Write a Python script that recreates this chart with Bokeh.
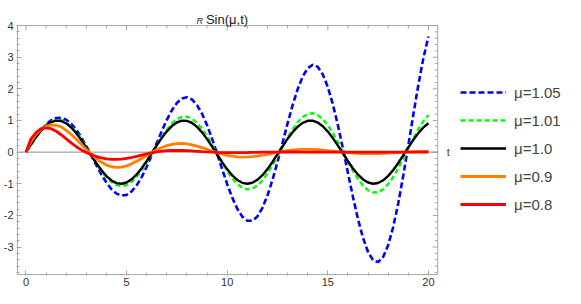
import math
from bokeh.plotting import figure
from bokeh.models import (LinearAxis, FixedTicker, Range1d, Legend, LegendItem,
                          Label, ColumnDataSource)
from bokeh.embed import file_html
from bokeh.resources import INLINE

# ---------------- data ----------------
t = [0.0, 0.25, 0.5, 0.75, 1.0, 1.25, 1.5, 1.75, 2.0, 2.25, 2.5, 2.75,
     3.0, 3.25, 3.5, 3.75, 4.0, 4.25, 4.5, 4.75, 5.0, 5.25, 5.5, 5.75,
     6.0, 6.25, 6.5, 6.75, 7.0, 7.25, 7.5, 7.75, 8.0, 8.25, 8.5, 8.75,
     9.0, 9.25, 9.5, 9.75, 10.0, 10.25, 10.5, 10.75, 11.0, 11.25, 11.5, 11.75,
     12.0, 12.25, 12.5, 12.75, 13.0, 13.25, 13.5, 13.75, 14.0, 14.25, 14.5, 14.75,
     15.0, 15.25, 15.5, 15.75, 16.0, 16.25, 16.5, 16.75, 17.0, 17.25, 17.5, 17.75,
     18.0, 18.25, 18.5, 18.75, 19.0, 19.25, 19.5, 19.75, 20.0]

mu_105 = [0, 0.243, 0.480, 0.696,
          0.875, 1.007, 1.079, 1.087,
          1.025, 0.898, 0.708, 0.468,
          0.188, -0.113, -0.419, -0.710,
          -0.967, -1.173, -1.312, -1.373,
          -1.351, -1.243, -1.053, -0.788,
          -0.463, -0.098, 0.286, 0.668,
          1.021, 1.323, 1.554, 1.696,
          1.733, 1.665, 1.489, 1.213,
          0.849, 0.420, -0.054, -0.543,
          -1.013, -1.438, -1.789, -2.039,
          -2.170, -2.170, -2.033, -1.763,
          -1.373, -0.878, -0.310, 0.296,
          0.907, 1.484, 1.988, 2.389,
          2.652, 2.764, 2.695, 2.456,
          2.057, 1.511, 0.851, 0.114,
          -0.660, -1.422, -2.123, -2.714,
          -3.158, -3.420, -3.476, -3.312,
          -2.935, -2.358, -1.616, -0.735,
          0.218, 1.195, 2.135, 2.977,
          3.657]

mu_101 = [0, 0.248, 0.482, 0.688,
          0.852, 0.967, 1.021, 1.013,
          0.941, 0.810, 0.628, 0.407,
          0.157, -0.103, -0.360, -0.597,
          -0.797, -0.949, -1.045, -1.076,
          -1.040, -0.940, -0.781, -0.571,
          -0.324, -0.057, 0.216, 0.479,
          0.713, 0.905, 1.042, 1.116,
          1.120, 1.055, 0.924, 0.736,
          0.500, 0.231, -0.054, -0.338,
          -0.602, -0.831, -1.010, -1.127,
          -1.176, -1.153, -1.056, -0.895,
          -0.676, -0.414, -0.124, 0.175,
          0.465, 0.727, 0.947, 1.110,
          1.206, 1.229, 1.170, 1.042,
          0.848, 0.601, 0.314, 0.006,
          -0.304, -0.597, -0.856, -1.062,
          -1.205, -1.275, -1.264, -1.175,
          -1.013, -0.787, -0.512, -0.202,
          0.122, 0.440, 0.734, 0.983,
          1.173]

mu_100 = [0, 0.247, 0.479, 0.682,
          0.841, 0.949, 0.997, 0.984,
          0.909, 0.778, 0.598, 0.382,
          0.141, -0.108, -0.351, -0.572,
          -0.757, -0.895, -0.978, -0.999,
          -0.959, -0.859, -0.706, -0.508,
          -0.279, -0.033, 0.215, 0.450,
          0.657, 0.823, 0.938, 0.995,
          0.989, 0.922, 0.798, 0.625,
          0.412, 0.174, -0.075, -0.320,
          -0.544, -0.735, -0.880, -0.970,
          -1.000, -0.968, -0.875, -0.729,
          -0.537, -0.311, -0.066, 0.183,
          0.420, 0.631, 0.803, 0.926,
          0.991, 0.996, 0.935, 0.818,
          0.650, 0.442, 0.206, -0.042,
          -0.288, -0.516, -0.712, -0.863,
          -0.961, -1.000, -0.976, -0.891,
          -0.751, -0.564, -0.343, -0.099,
          0.150, 0.390, 0.606, 0.784,
          0.913]

mu_090 = [0, 0.33, 0.56, 0.72,
          0.82, 0.86, 0.85, 0.80,
          0.69, 0.56, 0.41, 0.25,
          0.085, -0.07, -0.208, -0.323,
          -0.409, -0.462, -0.483, -0.472,
          -0.433, -0.371, -0.291, -0.200,
          -0.105, -0.012, 0.074, 0.148,
          0.207, 0.248, 0.270, 0.274,
          0.260, 0.232, 0.192, 0.144,
          0.091, 0.037, -0.015, -0.061,
          -0.100, -0.129, -0.148, -0.155,
          -0.153, -0.142, -0.123, -0.098,
          -0.069, -0.038, -0.008, 0.020,
          0.045, 0.064, 0.078, 0.086,
          0.088, 0.085, 0.076, 0.064,
          0.048, 0.032, 0.014, -0.003,
          -0.018, -0.031, -0.041, -0.047,
          -0.050, -0.050, -0.046, -0.041,
          -0.033, -0.023, -0.014, -0.004,
          0.005, 0.014, 0.020, 0.025,
          0.028]

mu_080 = [0, 0.42, 0.62, 0.74,
          0.77, 0.74, 0.66, 0.55,
          0.42, 0.29, 0.17, 0.07,
          -0.01, -0.08, -0.14, -0.18,
          -0.21, -0.225, -0.23, -0.22,
          -0.20, -0.17, -0.135, -0.095,
          -0.055, -0.02, 0.01, 0.03,
          0.045, 0.052, 0.055, 0.052,
          0.046, 0.037, 0.027, 0.016,
          0.006, -0.003, -0.01, -0.015,
          -0.017, -0.018, -0.017, -0.015,
          -0.012, -0.008, -0.005, -0.002,
          0.0, 0.002, 0.003, 0.004,
          0.004, 0.004, 0.004, 0.003,
          0.002, 0.001, 0.0, -0.001,
          -0.001, -0.001, -0.001, -0.001,
          0.0, 0.0, 0.0, 0.0,
          0.0, 0.0, 0.0, 0.0,
          0.0, 0.0, 0.0, 0.0,
          0.0, 0.0, 0.0, 0.0,
          0.0]

labels = ["μ=1.05", "μ=1.01", "μ=1.0", "μ=0.9", "μ=0.8"]
keys = ["mu_105", "mu_101", "mu_100", "mu_090", "mu_080"]

x_major = [0, 5, 10, 15, 20]
y_major = [-3, -2, -1, 0, 1, 2, 3, 4]
y_labels = {-3: "-3", -2: "-2", -1: "-1", 0: "0", 1: "1", 2: "2", 3: "3", 4: "4"}
title_main = "Sin(μ,t)"
title_sub = "R"
axis_name = "t"

# ---------------- layout / styles ----------------
# visible plot box (data units); the Bokeh frame is wider/taller so that the
# title, the "t" and the legend can sit inside it
VX0, VX1, VY0, VY1 = -0.42, 20.46, -3.87, 4.0
XR = (-0.47, 26.71)
YR = (-3.90, 4.73)
TITLE_X, TITLE_Y = 9.99, 4.19
SUB_X, SUB_Y = 8.8, 4.13

colors = ["#0000ff", "#00ff00", "#000000", "#ff8000", "#ff0000"]
dashes = ["6 3", "5 3", "solid", "solid", "solid"]
widths = [2.6, 2.4, 2.4, 2.8, 2.8]

FONT = "Liberation Sans"
GRAY = "#a6a6a6"

src = ColumnDataSource(dict(t=t, mu_105=mu_105, mu_101=mu_101, mu_100=mu_100,
                            mu_090=mu_090, mu_080=mu_080))

p = figure(width=565, height=288, output_backend="svg", toolbar_location=None,
           x_range=Range1d(*XR), y_range=Range1d(*YR),
           x_axis_type=None, y_axis_type=None,
           min_border_left=13, min_border_right=2,
           min_border_top=2, min_border_bottom=12)
p.title.visible = False
p.outline_line_color = None

x_minor = [v for v in range(0, 21) if v % 5 != 0]
y_minor = [round(-3.8 + 0.2 * i, 1) for i in range(39)]
y_minor = [v for v in y_minor if abs(v - round(v)) > 1e-6]


def style_axis(ax):
    ax.axis_line_color = None
    ax.major_tick_line_color = GRAY
    ax.minor_tick_line_color = GRAY
    ax.major_tick_in = 5
    ax.major_tick_out = 0
    ax.minor_tick_in = 3
    ax.minor_tick_out = 0
    ax.major_label_text_font = FONT
    ax.major_label_text_font_size = "11px"
    ax.major_label_text_color = "#333333"
    return ax


left_ax = style_axis(LinearAxis(ticker=FixedTicker(ticks=y_major, minor_ticks=y_minor)))
left_ax.major_label_overrides = y_labels
left_ax.major_label_standoff = 3
p.add_layout(left_ax, "left")

bottom_ax = style_axis(LinearAxis(ticker=FixedTicker(ticks=x_major, minor_ticks=x_minor)))
bottom_ax.major_label_standoff = 2
p.add_layout(bottom_ax, "below")

# frame box of the plot
p.quad(left=VX0, right=VX1, bottom=VY0, top=VY1, fill_color=None,
       line_color=GRAY, line_width=1)

# ticks on the top and right edges of the box (pointing inwards)
p.ray(x=x_major, y=[VY1] * len(x_major), length=5, angle=-math.pi / 2,
      length_units="screen", line_color=GRAY, line_width=1)
p.ray(x=x_minor, y=[VY1] * len(x_minor), length=3, angle=-math.pi / 2,
      length_units="screen", line_color=GRAY, line_width=1)
p.ray(x=[VX1] * len(y_major), y=y_major, length=5, angle=math.pi,
      length_units="screen", line_color=GRAY, line_width=1)
p.ray(x=[VX1] * len(y_minor), y=y_minor, length=3, angle=math.pi,
      length_units="screen", line_color=GRAY, line_width=1)

# the t axis (y = 0)
p.segment(x0=[VX0], y0=[0], x1=[VX1], y1=[0], line_color="#8c8c8c", line_width=1)

renderers = []
for k, c, d, w in zip(keys, colors, dashes, widths):
    r = p.line("t", k, source=src, line_color=c, line_width=w, line_dash=d)
    renderers.append(r)

legend = Legend(items=[LegendItem(label=lab, renderers=[r])
                       for lab, r in zip(labels, renderers)],
                location=(444, 61), glyph_width=46, glyph_height=20,
                label_height=20, spacing=8, padding=0, margin=0,
                label_standoff=8, label_text_font=FONT,
                label_text_font_size="15px", background_fill_alpha=0,
                border_line_color=None)
p.add_layout(legend)

p.add_layout(Label(x=VX1, y=0, x_offset=9, text=axis_name,
                   text_baseline="middle", text_font=FONT,
                   text_font_size="11px", text_color="#444444"))
p.add_layout(Label(x=TITLE_X, y=TITLE_Y, text=title_main, text_align="center",
                   text_baseline="alphabetic", text_font=FONT,
                   text_font_size="13px", text_color="#222222"))
p.add_layout(Label(x=SUB_X, y=SUB_Y, text=title_sub, text_align="right",
                   text_baseline="alphabetic", text_font=FONT,
                   text_font_style="italic", text_font_size="9px",
                   text_color="#222222"))

open("out.html", "w").write(file_html(p, INLINE))
